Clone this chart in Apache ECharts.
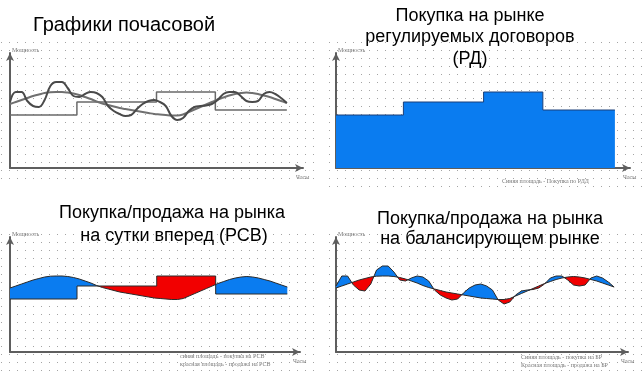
<!DOCTYPE html>
<html><head><meta charset="utf-8">
<script src="https://cdn.jsdelivr.net/npm/echarts@6/dist/echarts.min.js"></script>
<style>html,body{margin:0;padding:0;background:#fff}#c{width:643px;height:371px}</style>
</head><body><div id="c"></div>
<script>
// ---------- data ----------
const hours = [0,0.5,1,1.5,2,2.5,3,3.5,4,4.5,5,5.5,6,6.5,7,7.5,8,8.5,9,9.5,10,10.5,11,11.5,12,12.5,13,13.5,14,14.5,15,15.5,16,16.5,17,17.5,18,18.5,19,19.5,20,20.5,21,21.5,22,22.5,23,23.5,24];
// smooth planned consumption curve
const planLoad = [64,66,68,70,72,73.5,75,75.8,76,76,75.5,74.5,73,71,69,66.5,64.5,63,61.5,60,59,58,57,56,55,54,53.5,53,52.5,52.5,53.5,56,58.5,61,63.5,66,68.5,70.5,72.5,74,75,75.5,75,74,72.5,71,69,67,65];
// actual (wavy) consumption curve
const actualLoad = [66,76,76,67,62,61,68,82,86,86,80,72,71,74,76,75,71,62,57,54,52,53,59,64,67,68,66,62,52,48,50,57,61,62,62.5,64,68,74,76,76,72,67,66,67,74,76,74,70,65];
// regulated contracts (RD) volumes by period
const rdStartHours = [0, 5.8, 12.7, 17.8];
const rdVolumes = [53, 66, 76, 58];
const rdEndHour = 24;

const titleTexts = {
  p1: ['Графики почасовой'],
  p2: ['Покупка на рынке', 'регулируемых договоров', '(РД)'],
  p3: ['Покупка/продажа на рынка', 'на сутки вперед (РСВ)'],
  p4: ['Покупка/продажа на рынка', 'на балансирующем рынке']
};
const notes = {
  p2: ['Синяя площадь - Покупка по РДД'],
  p3: ['синяя площадь - покупка на РСВ', 'красная площадь - продажа на РСВ'],
  p4: ['Синяя площадь - покупка на БР', 'Красная площадь - продажа на БР']
};
const yName = 'Мощность';
const xName = 'Часы';

// ---------- helpers ----------
const BLUE = '#0a7cf0', RED = '#f20000';
const planPts = hours.map((h, i) => [h, planLoad[i]]);
const actualPts = hours.map((h, i) => [h, actualLoad[i]]);
const rdStepPts = rdStartHours.map((h, i) => [h, rdVolumes[i]]).concat([[rdEndHour, rdVolumes[rdVolumes.length - 1]]]);
const rdFullPts = [];
rdStartHours.forEach((h, i) => {
  const end = i < rdStartHours.length - 1 ? rdStartHours[i + 1] : rdEndHour;
  rdFullPts.push([h, rdVolumes[i]], [end, rdVolumes[i]]);
});

function evalR(p, x) {
  for (let j = p.length - 2; j >= 0; j--) {
    if (p[j][0] <= x && p[j + 1][0] > x) {
      const t = (x - p[j][0]) / (p[j + 1][0] - p[j][0]);
      return p[j][1] + t * (p[j + 1][1] - p[j][1]);
    }
  }
  return x < p[0][0] ? p[0][1] : p[p.length - 1][1];
}
function evalL(p, x) {
  for (let j = 0; j < p.length - 1; j++) {
    if (p[j][0] < x && p[j + 1][0] >= x) {
      const t = (x - p[j][0]) / (p[j + 1][0] - p[j][0]);
      return p[j][1] + t * (p[j + 1][1] - p[j][1]);
    }
  }
  return x <= p[0][0] ? p[0][1] : p[p.length - 1][1];
}
function diffRegions(A, B) {
  const xs = Array.from(new Set(A.map(p => p[0]).concat(B.map(p => p[0])))).sort((a, b) => a - b);
  const runs = []; let cur = null;
  function push(sign, x0, a0, b0, x1, a1, b1) {
    if (sign === 0) { cur = null; return; }
    if (!cur || cur.sign !== sign) { cur = { sign, top: [[x0, a0]], bot: [[x0, b0]] }; runs.push(cur); }
    else { cur.top.push([x0, a0]); cur.bot.push([x0, b0]); }
    cur.top.push([x1, a1]); cur.bot.push([x1, b1]);
  }
  for (let k = 0; k < xs.length - 1; k++) {
    const x0 = xs[k], x1 = xs[k + 1];
    const a0 = evalR(A, x0), b0 = evalR(B, x0), a1 = evalL(A, x1), b1 = evalL(B, x1);
    const d0 = a0 - b0, d1 = a1 - b1;
    if (d0 * d1 < 0) {
      const t = d0 / (d0 - d1);
      const xm = x0 + t * (x1 - x0), ym = a0 + t * (a1 - a0);
      push(Math.sign(d0), x0, a0, b0, xm, ym, ym);
      push(Math.sign(d1), xm, ym, ym, x1, a1, b1);
    } else push(Math.sign(d0 + d1), x0, a0, b0, x1, a1, b1);
  }
  return runs;
}
function fillSeries(idx, A, B) {
  const runs = diffRegions(A, B);
  return {
    type: 'custom', xAxisIndex: idx, yAxisIndex: idx, data: [[0, 0]], silent: true, z: 1,
    renderItem: (params, api) => ({
      type: 'group',
      children: runs.map(r => ({
        type: 'polygon',
        shape: { points: r.top.concat(r.bot.slice().reverse()).map(p => api.coord(p)) },
        style: { fill: r.sign > 0 ? BLUE : RED, stroke: null }
      }))
    })
  };
}

// dot pattern
const dot = document.createElement('canvas');
dot.width = 8; dot.height = 8;
const dctx = dot.getContext('2d');
dctx.fillStyle = '#a4a4a4'; dctx.fillRect(1, 2, 1, 1);

const axisColor = '#5e5e5e';
function xAx(gi, max) {
  return {
    gridIndex: gi, type: 'value', min: 0, max: max,
    axisLine: { show: true, onZero: false, symbol: ['none', 'arrow'], symbolSize: [6, 8], lineStyle: { color: axisColor, width: 2 } },
    axisTick: { show: false }, axisLabel: { show: false }, splitLine: { show: false },
    name: xName, nameLocation: 'end', nameGap: -7,
    nameTextStyle: { fontSize: 6, color: '#777', fontFamily: 'Liberation Serif', align: 'left', verticalAlign: 'top', padding: [6, 0, 0, 0] }
  };
}
function yAx(gi) {
  return {
    gridIndex: gi, type: 'value', min: 0, max: 115,
    axisLine: { show: true, onZero: false, symbol: ['none', 'arrow'], symbolSize: [6, 8], lineStyle: { color: axisColor, width: 2 } },
    axisTick: { show: false }, axisLabel: { show: false }, splitLine: { show: false },
    name: yName, nameLocation: 'end', nameGap: 0,
    nameTextStyle: { fontSize: 6, color: '#777', fontFamily: 'Liberation Serif', align: 'left', verticalAlign: 'bottom', padding: [0, 0, 0, 2] }
  };
}
function lineS(idx, pts, color, width, extra) {
  return Object.assign({
    type: 'line', xAxisIndex: idx, yAxisIndex: idx, data: pts, symbol: 'none', showSymbol: false,
    lineStyle: { color: color, width: width }, z: 3, silent: true
  }, extra || {});
}

function txt(x, y, text, size, color, family, align) {
  return {
    type: 'text', x: x, y: y, z: 100, silent: true,
    style: { text: text, fill: color, font: size + 'px ' + family, align: align || 'center', verticalAlign: 'middle', textAlign: align || 'center', textVerticalAlign: 'middle' }
  };
}
const TF = '"Liberation Sans", Arial, sans-serif';
const NF = '"Liberation Serif", serif';

const graphics = [
  { type: 'rect', z: -10, silent: true, shape: { x: 0, y: 40, width: 316, height: 142 }, style: { fill: { image: dot, repeat: 'repeat' } } },
  { type: 'rect', z: -10, silent: true, shape: { x: 322, y: 42, width: 321, height: 146 }, style: { fill: { image: dot, repeat: 'repeat' } } },
  { type: 'rect', z: -10, silent: true, shape: { x: 0, y: 230, width: 316, height: 141 }, style: { fill: { image: dot, repeat: 'repeat' } } },
  { type: 'rect', z: -10, silent: true, shape: { x: 322, y: 230, width: 321, height: 141 }, style: { fill: { image: dot, repeat: 'repeat' } } },
  txt(124, 25, titleTexts.p1[0], 20, '#000', TF),
  txt(470, 16, titleTexts.p2[0], 18, '#000', TF),
  txt(470, 37, titleTexts.p2[1], 18, '#000', TF),
  txt(470, 59, titleTexts.p2[2], 18, '#000', TF),
  txt(172, 213, titleTexts.p3[0], 18, '#000', TF),
  txt(174, 236, titleTexts.p3[1], 18, '#000', TF),
  txt(490, 219, titleTexts.p4[0], 18, '#000', TF),
  txt(490, 239, titleTexts.p4[1], 18, '#000', TF),
  txt(502, 181, notes.p2[0], 6, '#777', NF, 'left'),
  txt(180, 356, notes.p3[0], 6, '#777', NF, 'left'),
  txt(180, 364, notes.p3[1], 6, '#777', NF, 'left'),
  txt(521, 357, notes.p4[0], 6, '#777', NF, 'left'),
  txt(521, 365, notes.p4[1], 6, '#777', NF, 'left')
];

const option = {
  animation: false,
  backgroundColor: '#fff',
  grid: [
    { left: 10, top: 53, width: 293, height: 115 },
    { left: 336, top: 53, width: 294, height: 115 },
    { left: 10, top: 237, width: 290, height: 115 },
    { left: 336, top: 237, width: 292, height: 115 }
  ],
  xAxis: [xAx(0, 25.4), xAx(1, 25.3), xAx(2, 25.1), xAx(3, 25.2)],
  yAxis: [yAx(0), yAx(1), yAx(2), yAx(3)],
  graphic: graphics,
  series: [
    // panel 1
    lineS(0, rdStepPts, '#6a6a6a', 1.5, { step: 'end' }),
    lineS(0, planPts, '#707070', 2, { smooth: 0.4 }),
    lineS(0, actualPts, '#4a4a4a', 2, { smooth: 0.4 }),
    // panel 2
    lineS(1, rdStepPts, '#1b3f78', 1, { step: 'end', areaStyle: { color: BLUE, opacity: 1 } }),
    // panel 3
    fillSeries(2, planPts, rdFullPts),
    lineS(2, rdFullPts, '#2a2a2a', 1),
    lineS(2, planPts, '#2a2a2a', 1),
    // panel 4
    fillSeries(3, actualPts, planPts),
    lineS(3, planPts, '#2a2a2a', 1),
    lineS(3, actualPts, '#2a2a2a', 1)
  ]
};
const chart = echarts.init(document.getElementById('c'), null, { renderer: 'canvas' });
chart.setOption(option);
</script>
</body></html>
